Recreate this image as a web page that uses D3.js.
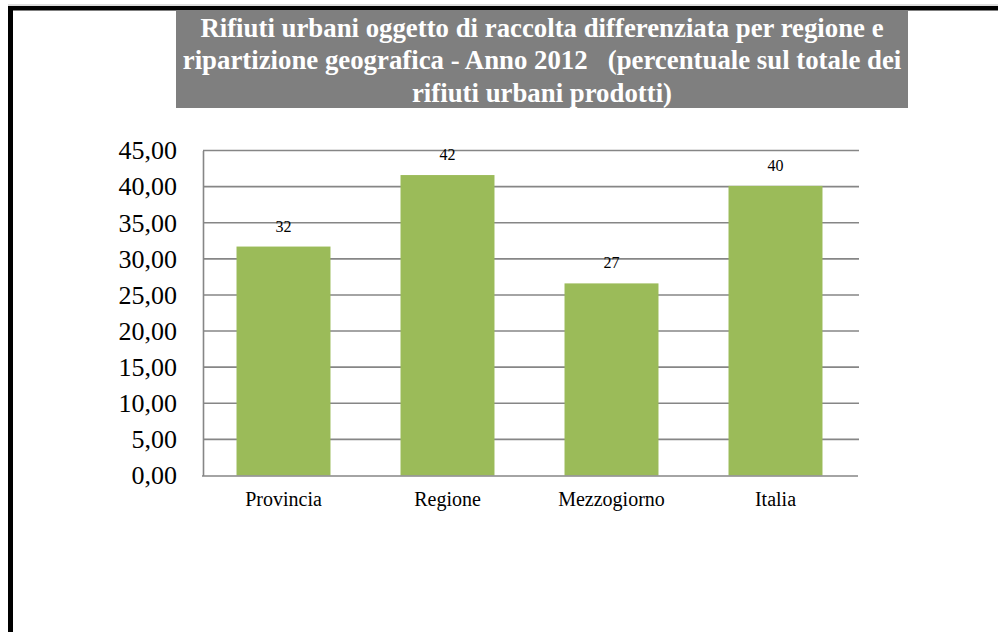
<!DOCTYPE html>
<html>
<head>
<meta charset="utf-8">
<script src="https://cdn.jsdelivr.net/npm/d3@7/dist/d3.min.js"></script>
<style>
html,body{margin:0;padding:0;background:#fff;}
svg{display:block;}
</style>
</head>
<body>
<script>
const categories = ["Provincia", "Regione", "Mezzogiorno", "Italia"];
const values = [31.7, 41.6, 26.6, 40.1];
const yTicks = [0, 5, 10, 15, 20, 25, 30, 35, 40, 45];
const titleLines = [
  "Rifiuti urbani oggetto di raccolta differenziata per regione e",
  "ripartizione geografica - Anno 2012   (percentuale sul totale dei",
  "rifiuti urbani prodotti)"
];

(function () {
const W = 998, H = 632;
const svg = d3.select("body").append("svg").attr("width", W).attr("height", H);

// frame
svg.append("rect").attr("x", 0).attr("y", 0).attr("width", W).attr("height", H).attr("fill", "#fff");
svg.append("line").attr("x1", 8).attr("x2", W).attr("y1", 5).attr("y2", 5).attr("stroke", "#bbb").attr("stroke-width", 1);
svg.append("rect").attr("x", 8).attr("y", 6).attr("width", W - 8).attr("height", 4.5).attr("fill", "#000");
svg.append("rect").attr("x", 8).attr("y", 6).attr("width", 5).attr("height", H - 6).attr("fill", "#000");

// title
svg.append("rect").attr("x", 176).attr("y", 10).attr("width", 732).attr("height", 98).attr("fill", "#7f7f7f");
const title = svg.append("text")
  .attr("text-anchor", "middle")
  .attr("font-family", "'Liberation Serif', 'Times New Roman', serif")
  .attr("font-weight", "bold")
  .attr("font-size", 26.8)
  .attr("fill", "#fff");
titleLines.forEach((t, i) => {
  title.append("tspan").attr("x", 542).attr("y", 36.5 + i * 32.5).attr("xml:space", "preserve").text(t);
});

// plot
const pLeft = 203, pRight = 859, pTop = 150.5, pBottom = 475.5;
const x = d3.scaleBand().domain(categories).range([pLeft - 1.5, pRight - 1.5]).paddingInner(0.427).paddingOuter(0.2135);
const y = d3.scaleLinear().domain([0, 45]).range([pBottom, pTop]);
const loc = d3.formatLocale({decimal: ",", thousands: ".", grouping: [3], currency: ["", "€"]});
const fmt = loc.format(".2f");

// gridlines
svg.append("g").selectAll("line").data(yTicks.filter(d => d > 0)).join("line")
  .attr("x1", pLeft).attr("x2", pRight)
  .attr("y1", d => y(d)).attr("y2", d => y(d))
  .attr("stroke", "#868686").attr("stroke-width", 1.6);

// bars
svg.append("g").selectAll("rect").data(values).join("rect")
  .attr("x", (d, i) => x(categories[i]))
  .attr("y", d => y(d))
  .attr("width", x.bandwidth())
  .attr("height", d => y(0) - y(d))
  .attr("fill", "#9bbb59");

// axes
const yAxis = svg.append("g").attr("transform", `translate(${pLeft},0)`)
  .call(d3.axisLeft(y).tickValues(yTicks).tickFormat(fmt).tickSize(0).tickPadding(26));
yAxis.select(".domain").attr("stroke", "#868686").attr("stroke-width", 1.6);
yAxis.selectAll("text").attr("font-family", "'Liberation Serif', 'Times New Roman', serif").attr("font-size", 26).attr("fill", "#000");

const xAxis = svg.append("g").attr("transform", `translate(0,${pBottom})`)
  .call(d3.axisBottom(x).tickSize(0).tickPadding(16));
xAxis.select(".domain").attr("stroke", "#868686").attr("stroke-width", 1.6);
xAxis.selectAll("text").attr("font-family", "'Liberation Serif', 'Times New Roman', serif").attr("font-size", 20).attr("fill", "#000");

// data labels
svg.append("g").selectAll("text").data(values).join("text")
  .attr("x", (d, i) => x(categories[i]) + x.bandwidth() / 2)
  .attr("y", d => y(d) - 15)
  .attr("text-anchor", "middle")
  .attr("font-family", "'Liberation Serif', 'Times New Roman', serif")
  .attr("font-size", 16)
  .attr("fill", "#000")
  .text(d => d3.format(".0f")(d));
})();
</script>
</body>
</html>
